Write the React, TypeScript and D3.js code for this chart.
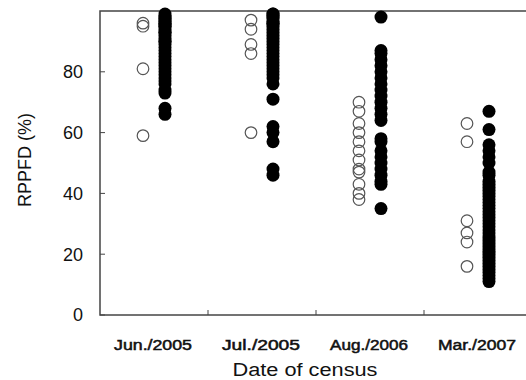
import { useEffect, useRef } from 'react';
import * as d3 from 'd3';

// census dates (x categories)
const censusDates = ['Jun./2005', 'Jul./2005', 'Aug./2006', 'Mar./2007'];

// open circles (left column in each group)
const openValues: number[][] = [
    [96, 95, 81, 59],
    [97, 94, 89, 86, 60],
    [70, 67, 63, 60, 57, 54, 51, 48, 47, 43, 40, 38],
    [63, 57, 31, 27, 24, 16],
];

// filled circles (right column in each group)
const filledValues: number[][] = [
    [99, 98, 98, 97, 97, 96, 96, 95, 95, 94, 93, 93, 92, 91, 90, 90, 89, 88, 87, 86, 85, 84, 83, 82, 81, 80, 79, 78, 77, 76, 74, 73, 68, 66],
    [99, 99, 98, 98, 97, 96, 96, 95, 94, 93, 92, 91, 90, 89, 88, 87, 86, 85, 84, 83, 82, 81, 80, 79, 78, 76, 71, 62, 60, 57, 48, 46],
    [98, 87, 86, 84, 82, 80, 78, 76, 74, 72, 70, 68, 66, 64, 58, 57, 54, 52, 50, 48, 46, 44, 43, 35],
    [67, 61, 56, 54, 52, 50, 47, 46, 44, 43, 42, 41, 40, 39, 38, 37, 36, 35, 34, 33, 32, 31, 30, 29, 28, 27, 26, 25, 24, 23, 22, 21, 20, 19, 18, 17, 16, 15, 14, 13, 12, 11],
];

const yTicks = [0, 20, 40, 60, 80];

export default function App() {
    const svgRef = useRef<SVGSVGElement>(null);

    useEffect(() => {
        if (!svgRef.current) return;
        const svg = d3.select(svgRef.current);
        svg.selectAll('*').remove();

        const left = 100, right = 532, top = 11, bottom = 315;
        const font = 'Arial, "Liberation Sans", sans-serif';

        const x = d3.scaleBand<string>().domain(censusDates).range([left, right]);
        const y = d3.scaleLinear().domain([0, 100]).range([bottom, top]);
        const offset = 11;

        // frame
        svg.append('rect')
            .attr('x', left)
            .attr('y', top)
            .attr('width', right - left)
            .attr('height', bottom - top)
            .attr('fill', '#fff')
            .attr('stroke', '#444')
            .attr('stroke-width', 1.5);

        // y ticks (inward)
        yTicks.forEach(t => {
            svg.append('line')
                .attr('x1', left).attr('x2', left + 5)
                .attr('y1', y(t)).attr('y2', y(t))
                .attr('stroke', '#444').attr('stroke-width', 1);
            svg.append('text')
                .attr('x', 83)
                .attr('y', y(t))
                .attr('dy', '0.36em')
                .attr('text-anchor', 'end')
                .attr('font-family', font)
                .attr('font-size', 18)
                .attr('fill', '#111')
                .text(t);
        });

        // x ticks at category boundaries
        censusDates.slice(1).forEach(d => {
            const bx = x(d)!;
            svg.append('line')
                .attr('x1', bx).attr('x2', bx)
                .attr('y1', bottom).attr('y2', bottom - 5)
                .attr('stroke', '#444').attr('stroke-width', 1);
        });

        censusDates.forEach(d => {
            svg.append('text')
                .attr('x', x(d)! + x.bandwidth() / 2 - 1)
                .attr('y', 345)
                .attr('dy', '0.36em')
                .attr('text-anchor', 'middle')
                .attr('font-family', font)
                .attr('font-size', 14)
                .attr('stroke', '#111')
                .attr('stroke-width', 0.5)
                .attr('textLength', 78)
                .attr('lengthAdjust', 'spacingAndGlyphs')
                .attr('fill', '#111')
                .text(d);
        });

        // axis titles
        svg.append('text')
            .attr('x', 305)
            .attr('y', 370)
            .attr('dy', '0.36em')
            .attr('text-anchor', 'middle')
            .attr('font-family', font)
            .attr('font-size', 18)
            .attr('textLength', 145)
            .attr('lengthAdjust', 'spacingAndGlyphs')
            .attr('fill', '#111')
            .text('Date of census');

        svg.append('text')
            .attr('transform', 'translate(25,160) rotate(-90)')
            .attr('dy', '0.36em')
            .attr('text-anchor', 'middle')
            .attr('font-family', font)
            .attr('font-size', 18)
            .attr('fill', '#111')
            .text('RPPFD (%)');

        // points
        censusDates.forEach((d, i) => {
            const cx = x(d)! + x.bandwidth() / 2;
            svg.append('g')
                .selectAll('circle')
                .data(openValues[i])
                .join('circle')
                .attr('cx', cx - offset)
                .attr('cy', v => y(v))
                .attr('r', 5.8)
                .attr('fill', 'none')
                .attr('stroke', '#555')
                .attr('stroke-width', 1.2);
            svg.append('g')
                .selectAll('circle')
                .data(filledValues[i])
                .join('circle')
                .attr('cx', cx + offset)
                .attr('cy', v => y(v))
                .attr('r', 6.5)
                .attr('fill', '#000');
        });
    }, []);

    return (
        <svg
            ref={svgRef}
            width={526}
            height={380}
            style={{ position: 'absolute', left: 0, top: 0, background: '#fff' }}
        />
    );
}
